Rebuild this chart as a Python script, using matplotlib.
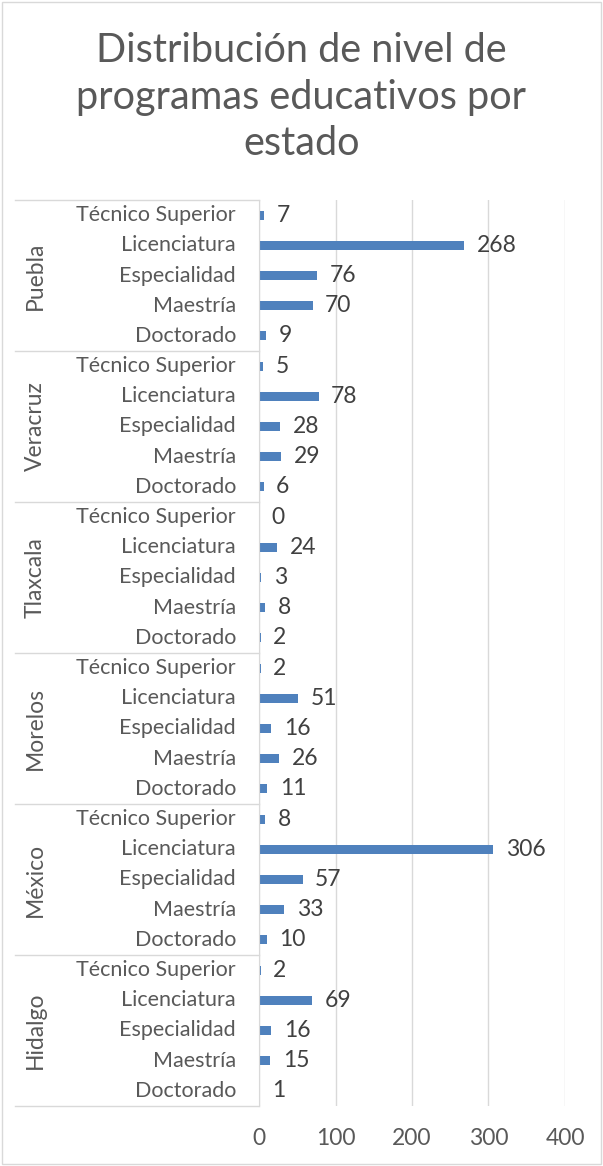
import matplotlib
matplotlib.use('Agg')
import matplotlib.pyplot as plt
from matplotlib.lines import Line2D
from matplotlib.patches import Rectangle
import numpy as np

# Datos (de arriba hacia abajo)
states = ['Puebla', 'Veracruz', 'Tlaxcala', 'Morelos', 'México', 'Hidalgo']
levels = ['Técnico Superior', 'Licenciatura', 'Especialidad', 'Maestría', 'Doctorado']
puebla = [7, 268, 76, 70, 9]
veracruz = [5, 78, 28, 29, 6]
tlaxcala = [0, 24, 3, 8, 2]
morelos = [2, 51, 16, 26, 11]
mexico = [8, 306, 57, 33, 10]
hidalgo = [2, 69, 16, 15, 1]
x_ticks = [0, 100, 200, 300, 400]

plt.rcParams['font.family'] = ['Lato', 'DejaVu Sans']

W, H = 603, 1166
fig = plt.figure(figsize=(W / 100, H / 100), dpi=100)

# borde exterior del gráfico
fig.patches.append(Rectangle((2 / W, 2 / H), 1 - 4 / W, 1 - 4 / H, transform=fig.transFigure,
                             fill=False, edgecolor='#D9D9D9', linewidth=1.0))

fig.text(0.5, 1 - 97 / H, 'Distribución de nivel de\nprogramas educativos por\nestado',
         ha='center', va='center', fontsize=28.5, color='#595959', linespacing=1.32)

ax_l, ax_r = 259 / W, 565 / W
ax_t, ax_b = 1 - 200 / H, 1 - 1106 / H
ax = fig.add_axes([ax_l, ax_b, ax_r - ax_l, ax_t - ax_b])

values = [puebla, veracruz, tlaxcala, morelos, mexico, hidalgo]
n = len(states) * len(levels)
ypos = np.arange(n)
flat = [v for group in values for v in group]

ax.barh(ypos, flat, height=0.3, color='#4F81BD')
for y, v in zip(ypos, flat):
    ax.annotate(str(v), (v, y), xytext=(9, 0), textcoords='offset points',
                ha='left', va='center', fontsize=16.5, color='#404040')

ax.set_ylim(n - 0.5, -0.5)
ax.set_xlim(0, 400)
ax.set_xticks(x_ticks)
ax.tick_params(axis='x', length=0, pad=16, labelsize=16.5, labelcolor='#595959')
ax.set_yticks([])
ax.grid(axis='x', color='#D9D9D9', linewidth=1)
ax.set_axisbelow(True)
for s in ['top', 'right', 'bottom']:
    ax.spines[s].set_visible(False)
ax.spines['left'].set_color('#D9D9D9')

# etiquetas de categorías en dos niveles
row_h = (ax_t - ax_b) / n
for i, lev in enumerate(levels * len(states)):
    fig.text(236 / W, ax_t - (i + 0.5) * row_h, lev, ha='right', va='center',
             fontsize=15.5, color='#595959')
for g, st in enumerate(states):
    yc = ax_t - (g * 5 + 2.5) * row_h
    fig.text(35 / W, yc, st, ha='center', va='center', rotation=90,
             fontsize=16.5, color='#595959')
for g in range(len(states) + 1):
    yl = ax_t - g * 5 * row_h
    fig.lines.append(Line2D([15 / W, ax_l], [yl, yl], transform=fig.transFigure,
                            color='#D9D9D9', linewidth=1))

fig.savefig('out.png', dpi=100, facecolor='white')
